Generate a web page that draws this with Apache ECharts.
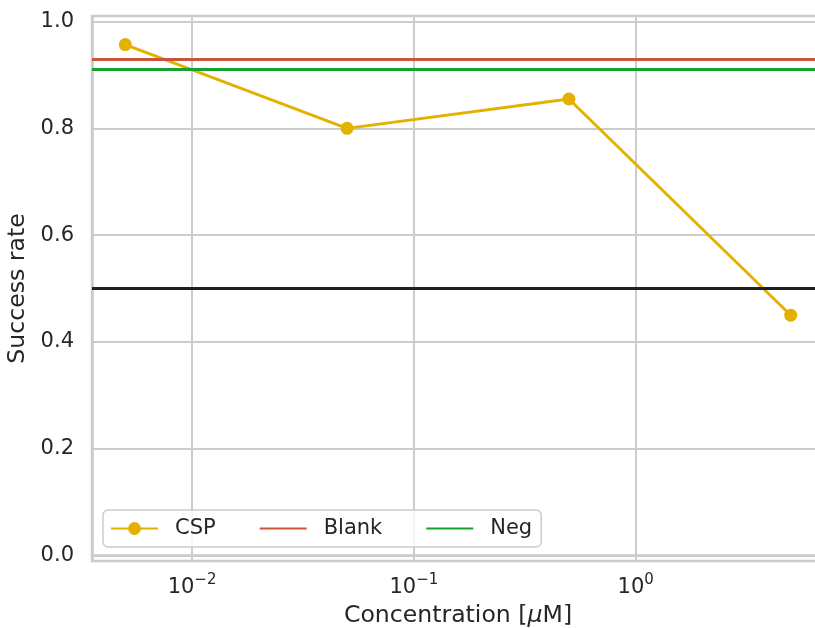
<!DOCTYPE html>
<html>
<head>
<meta charset="utf-8">
<script src="https://cdn.jsdelivr.net/npm/echarts@6/dist/echarts.min.js"></script>
<style>
  html, body { margin: 0; padding: 0; background: #ffffff; }
  #chart { width: 815px; height: 628px; }
</style>
</head>
<body>
<div id="chart"></div>
<script>
// ---- data ----
const concentrations = [0.005, 0.05, 0.5, 5];       // µM
const cspRate = [0.957, 0.800, 0.855, 0.450];
const blankRate = 0.925;
const negRate = 0.905;
const chanceRate = 0.5;
const yTickValues = [0.0, 0.2, 0.4, 0.6, 0.8, 1.0];
const seriesNames = ['CSP', 'Blank', 'Neg'];

// ---- style ----
const TEXT = '#262626';
const GRIDC = '#cccccc';
const FONT = 'DejaVu Sans';
const C_CSP = '#e3b100';
const C_BLANK = '#cb553a';
const C_NEG = '#15a02f';

// matplotlib-like 5% margins on log x
const lmin = Math.log10(Math.min(...concentrations));
const lmax = Math.log10(Math.max(...concentrations));
const lspan = lmax - lmin;
const xMin = Math.pow(10, lmin - 0.05 * lspan);
const xMax = Math.pow(10, lmax + 0.05 * lspan);

function decadeLabel(v) {
  const e = Math.log10(v);
  const r = Math.round(e);
  if (Math.abs(e - r) > 1e-6) return '';
  const s = String(r).replace('-', '\u2212');
  return '{b|10}{s|' + s + '}';
}
function yLabel(v) {
  for (const t of yTickValues) { if (Math.abs(v - t) < 1e-6) return t.toFixed(1); }
  return '';
}

const chart = echarts.init(document.getElementById('chart'), null, { renderer: 'canvas' });
chart.setOption({
  animation: false,
  backgroundColor: '#ffffff',
  textStyle: { fontFamily: FONT, color: TEXT },
  grid: {
    left: 92, right: -9, top: 16, bottom: 67,
    containLabel: false, outerBoundsMode: 'none',
    show: true, borderColor: GRIDC, borderWidth: 2.5, backgroundColor: '#ffffff'
  },
  legend: {
    data: [
      { name: seriesNames[0] },
      { name: seriesNames[1], itemStyle: { opacity: 0 } },
      { name: seriesNames[2], itemStyle: { opacity: 0 } }
    ],
    left: 103, top: 510,
    orient: 'horizontal',
    itemWidth: 47, itemHeight: 16, itemGap: 43,
    padding: [8, 9, 8, 7],
    backgroundColor: 'rgba(255,255,255,0.8)',
    borderColor: GRIDC, borderWidth: 1.5, borderRadius: 5,
    textStyle: { fontSize: 21, color: TEXT, fontFamily: FONT, padding: [0, 0, 0, 12] }
  },
  xAxis: {
    type: 'log', logBase: 10, min: xMin, max: xMax,
    name: '{a|Concentration [}{i|\u03bc}{a|M]}',
    nameLocation: 'middle', nameGap: 42,
    nameTextStyle: {
      rich: {
        a: { fontSize: 23.6, color: TEXT, fontFamily: FONT },
        i: { fontSize: 23.6, color: TEXT, fontFamily: FONT, fontStyle: 'italic' }
      }
    },
    axisLine: { show: true, lineStyle: { color: GRIDC, width: 2.5 } },
    axisTick: { show: false },
    minorTick: { show: false },
    splitLine: { show: true, lineStyle: { color: GRIDC, width: 2 } },
    axisLabel: {
      margin: 12, formatter: decadeLabel, showMinLabel: false, showMaxLabel: false,
      rich: {
        b: { fontSize: 21, color: TEXT, fontFamily: FONT, lineHeight: 30 },
        s: { fontSize: 15, color: TEXT, fontFamily: FONT, lineHeight: 18, verticalAlign: 'top' }
      }
    }
  },
  yAxis: {
    type: 'value', min: -0.0105, max: 1.0105,
    name: 'Success rate', nameLocation: 'middle', nameGap: 56,
    nameTextStyle: { fontSize: 23.6, color: TEXT, fontFamily: FONT },
    axisLine: { show: true, lineStyle: { color: GRIDC, width: 2.5 } },
    axisTick: { show: false },
    splitLine: { show: true, lineStyle: { color: GRIDC, width: 2 } },
    axisLabel: { margin: 18, fontSize: 21, color: TEXT, fontFamily: FONT, formatter: yLabel }
  },
  series: [
    {
      name: 'CSP', type: 'line', color: C_CSP,
      data: concentrations.map((c, i) => [c, cspRate[i]]),
      symbol: 'circle', symbolSize: 13, showSymbol: true,
      lineStyle: { color: C_CSP, width: 2.9 },
      itemStyle: { color: C_CSP },
      z: 3,
      markLine: {
        silent: true, symbol: 'none', label: { show: false },
        lineStyle: { color: '#1f1f1f', width: 2.9, type: 'solid' },
        data: [{ yAxis: chanceRate }]
      }
    },
    {
      name: 'Blank', type: 'line', color: C_BLANK, symbol: 'none', data: [],
      lineStyle: { color: C_BLANK, width: 2.9 }, z: 4,
      markLine: {
        silent: true, symbol: 'none', label: { show: false },
        lineStyle: { color: C_BLANK, width: 2.9, type: 'solid' },
        data: [{ yAxis: blankRate }]
      }
    },
    {
      name: 'Neg', type: 'line', color: C_NEG, symbol: 'none', data: [],
      lineStyle: { color: C_NEG, width: 2.9 }, z: 4,
      markLine: {
        silent: true, symbol: 'none', label: { show: false },
        lineStyle: { color: C_NEG, width: 2.9, type: 'solid' },
        data: [{ yAxis: negRate }]
      }
    }
  ]
});
</script>
</body>
</html>
